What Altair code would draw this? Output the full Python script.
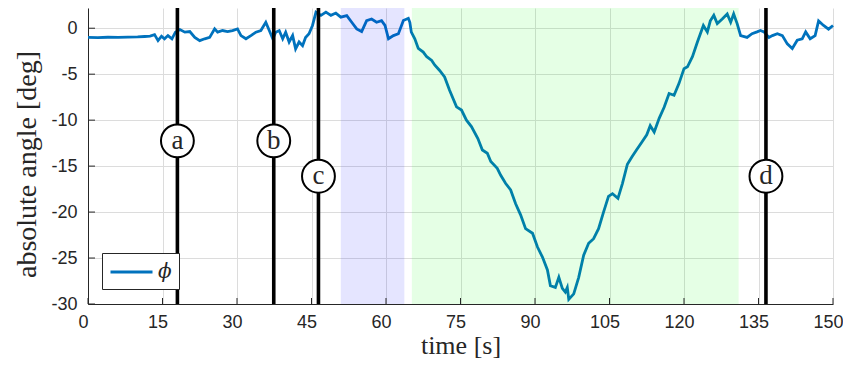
import altair as alt
import pandas as pd

# ---- data ----
t_vals = [0.0, 2.0, 4.0, 6.1, 8.0, 10.0, 11.4, 12.5, 13.4, 14.1, 14.8, 15.4, 16.1, 16.9, 17.6,
          18.5, 19.5, 20.5, 21.5, 22.5, 23.5, 24.5, 25.5, 26.1, 27.1, 28.1, 29.1, 30.1, 30.8,
          31.8, 32.8, 33.8, 34.8, 35.8, 36.5, 37.2, 37.8, 38.5, 39.2, 39.8, 40.5, 41.2, 41.8,
          42.5, 43.2, 43.8, 44.5, 45.2, 45.9, 46.9, 47.9, 48.9, 49.9, 50.9, 52.1, 53.1, 54.1,
          55.1, 56.1, 57.1, 58.1, 59.1, 59.8, 60.5, 61.5, 62.5, 63.5, 64.5, 64.8, 65.1, 65.8,
          66.5, 67.5, 68.2, 69.2, 69.8, 70.8, 71.8, 72.8, 74.2, 75.2, 76.2, 77.2, 78.5, 79.4,
          80.4, 81.1, 82.4, 83.1, 84.1, 85.1, 86.1, 87.1, 88.1, 89.5, 90.5, 91.5, 92.5, 93.1,
          94.1, 94.8, 95.5, 96.1, 96.5, 96.8, 97.8, 98.8, 99.8, 100.8, 101.8, 102.8, 103.8,
          104.8, 105.6, 106.7, 107.6, 108.6, 109.5, 110.5, 111.5, 112.5, 113.2, 114.0, 115.0,
          116.0, 117.0, 118.0, 119.0, 120.0, 120.7, 121.7, 122.7, 123.9, 124.7, 125.3, 126.0,
          126.7, 127.7, 128.7, 129.4, 130.0, 130.7, 131.4, 132.7, 133.7, 134.7, 135.4, 136.1,
          137.1, 137.8, 138.8, 139.8, 140.8, 141.8, 142.8, 143.8, 144.5, 145.4, 146.4, 147.1,
          148.1, 149.1, 150.0]
phi_vals = [-1.0, -1.02, -0.98, -1.0, -0.97, -0.95, -0.9, -0.85, -0.7, -1.35, -0.87, -1.15, -0.8,
            -1.15, -0.43, -0.15, -0.43, -0.36, -1.0, -1.35, -1.15, -1.0, -0.07, -0.43, -0.25,
            -0.36, -0.25, -0.07, -0.8, -1.15, -0.8, -0.43, -0.25, 0.65, -0.25, -1.15, -0.43,
            -0.25, -1.15, -0.43, -1.5, -0.8, -2.25, -1.5, -1.9, -1.0, -0.6, 0.3, 1.75, 1.4,
            1.75, 1.4, 1.65, 1.2, 1.37, 0.65, -0.07, -0.36, 0.83, 1.0, 0.65, 0.83, 0.3, -1.15,
            -0.8, -0.6, 0.83, 1.08, 0.65, -0.43, -1.15, -2.2, -2.6, -3.1, -3.5, -4.0, -4.6,
            -5.3, -6.75, -8.55, -8.9, -10.0, -10.7, -12.0, -13.25, -13.6, -14.5, -15.25, -16.0,
            -16.9, -17.6, -19.1, -20.3, -21.8, -22.3, -23.8, -24.9, -26.3, -28.0, -28.2, -27.1,
            -28.3, -28.7, -28.2, -29.5, -28.9, -27.1, -24.7, -23.4, -22.9, -21.8, -20.0, -18.3,
            -18.0, -18.5, -16.9, -14.8, -14.0, -13.2, -12.4, -11.6, -10.6, -11.3, -9.8, -8.6,
            -7.1, -7.3, -6.0, -4.4, -4.2, -3.1, -1.5, 0.3, -0.4, 0.8, 1.4, 0.5, 1.0, 1.55, 0.65,
            1.55, 0.5, -0.8, -1.0, -0.6, -0.4, -0.25, -0.4, -1.0, -0.8, -0.6, -0.8, -1.7, -2.2,
            -1.3, -1.15, -0.4, -1.15, -0.8, 0.8, 0.3, -0.1, 0.3]

region_start = [50.9, 65.2]
region_end = [63.7, 131.0]
region_color = ["#0000ff", "#00ff00"]

event_t = [18.0, 37.4, 46.4, 136.5]
event_label = ["a", "b", "c", "d"]
event_label_y = [-12.25, -12.25, -16.1, -16.1]

x_ticks = [0, 15, 30, 45, 60, 75, 90, 105, 120, 135, 150]
y_ticks = [-30, -25, -20, -15, -10, -5, 0]
series_name = "\u03d5"

W, H = 745, 296

line_df = pd.DataFrame({"t": t_vals, "phi": phi_vals, "series": series_name})
reg_df = pd.DataFrame({"s": region_start, "e": region_end, "c": region_color})
ev_df = pd.DataFrame({"t": event_t, "lab": event_label, "ly": event_label_y})
xt_df = pd.DataFrame({"v": x_ticks})
yt_df = pd.DataFrame({"v": y_ticks})

xscale = alt.Scale(domain=[0, 150], nice=False, zero=False)
yscale = alt.Scale(domain=[-30, 2.2], nice=False, zero=False)

xaxis = alt.Axis(values=x_ticks, title="time [s]", grid=True, ticks=False, tickSize=0,
                 labelPadding=9, titlePadding=1, labelFlush=False, labelOffset=-5,
                 titleFontSize=26, labelExpr="'' + datum.value")
yaxis = alt.Axis(values=y_ticks, title="absolute angle [deg]", grid=True, ticks=False,
                 tickSize=0, labelPadding=11, titlePadding=9, titleFontSize=28,
                 titleY=156, labelExpr="'' + datum.value")

line = alt.Chart(line_df).mark_line(strokeWidth=2.8, interpolate="linear").encode(
    x=alt.X("t:Q", scale=xscale, axis=xaxis),
    y=alt.Y("phi:Q", scale=yscale, axis=yaxis),
    color=alt.Color("series:N",
                    scale=alt.Scale(domain=[series_name], range=["#0072BD"]),
                    legend=alt.Legend(orient="none", legendX=14, legendY=245, title=None,
                                      symbolType="M-1,0H3", symbolSize=441,
                                      symbolStrokeWidth=3, labelFont="DejaVu Serif",
                                      labelFontStyle="italic", labelFontSize=20,
                                      labelColor="#262626",
                                      strokeColor="#262626", fillColor="white",
                                      padding=7, labelOffset=25, rowPadding=0)),
)

regions = alt.Chart(reg_df).mark_rect(opacity=0.1).encode(
    x=alt.X("s:Q", scale=xscale), x2="e:Q",
    y=alt.value(0), y2=alt.value(H),
    color=alt.Color("c:N", scale=None, legend=None),
)

xticks_l = alt.Chart(xt_df).mark_rule(color="#262626", strokeWidth=1).encode(
    x=alt.X("v:Q", scale=xscale), y=alt.value(H), y2=alt.value(H - 6))
yticks_l = alt.Chart(yt_df).mark_rule(color="#262626", strokeWidth=1).encode(
    y=alt.Y("v:Q", scale=yscale), x=alt.value(0), x2=alt.value(7))

rules = alt.Chart(ev_df).mark_rule(color="black", strokeWidth=3.6).encode(
    x=alt.X("t:Q", scale=xscale), y=alt.value(0), y2=alt.value(H))

circles = alt.Chart(ev_df).mark_point(shape="circle", filled=True, fill="white",
                                      stroke="black", strokeWidth=2, size=1080,
                                      opacity=1).encode(
    x=alt.X("t:Q", scale=xscale), y=alt.Y("ly:Q", scale=yscale))

labels = alt.Chart(ev_df).mark_text(font="Liberation Serif", fontSize=27, color="#262626",
                                    baseline="middle", dy=0).encode(
    x=alt.X("t:Q", scale=xscale), y=alt.Y("ly:Q", scale=yscale), text="lab:N")

chart = alt.layer(line, regions, xticks_l, yticks_l, rules, circles, labels).properties(
    width=W, height=H,
    autosize=alt.AutoSizeParams(type="none"),
    padding={"left": 80, "top": 0, "right": 10, "bottom": 57},
).configure_view(stroke=None).configure_axis(
    labelFont="Liberation Sans", labelFontSize=18, labelColor="#262626",
    titleFont="Liberation Serif", titleFontSize=27, titleColor="#262626",
    titleFontWeight="normal", gridColor="#dcdcdc", gridWidth=1,
    domainColor="#262626", domainWidth=1,
).resolve_scale(color="independent")

chart.save("out.html", embed_options={"renderer": "svg", "actions": False})
